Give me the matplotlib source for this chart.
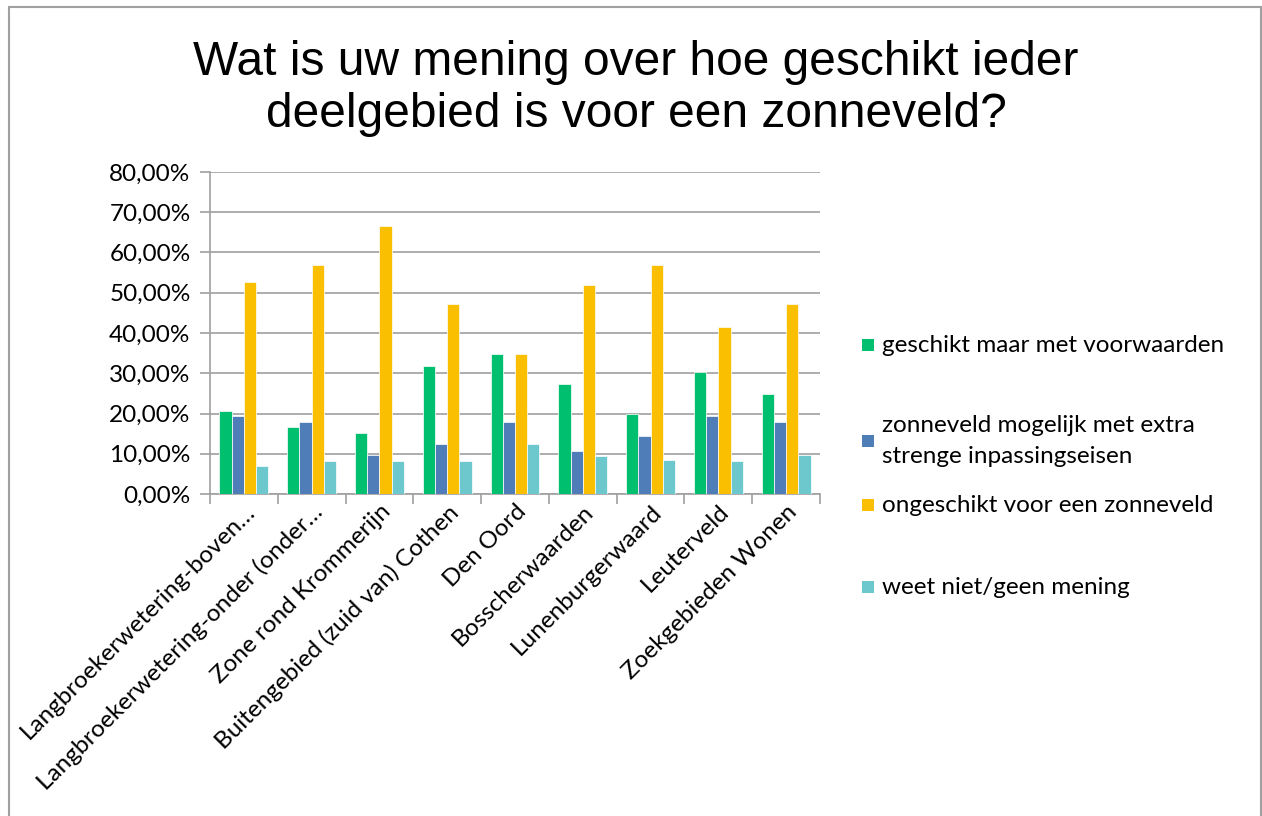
import numpy as np
import matplotlib.pyplot as plt
from matplotlib.patches import Rectangle
from matplotlib.ticker import FuncFormatter, FixedLocator

categories = [
    "Langbroekerwetering-boven…",
    "Langbroekerwetering-onder (onder…",
    "Zone rond Krommerijn",
    "Buitengebied (zuid van) Cothen",
    "Den Oord",
    "Bosscherwaarden",
    "Lunenburgerwaard",
    "Leuterveld",
    "Zoekgebieden Wonen",
]
series_names = [
    "geschikt maar met voorwaarden",
    "zonneveld mogelijk met extra\nstrenge inpassingseisen",
    "ongeschikt voor een zonneveld",
    "weet niet/geen mening",
]
geschikt = [20.7, 16.6, 15.2, 31.8, 34.7, 27.4, 19.9, 30.4, 24.9]
mogelijk = [19.3, 18.0, 9.7, 12.4, 18.0, 10.8, 14.3, 19.3, 18.0]
ongeschikt = [52.6, 57.0, 66.6, 47.1, 34.7, 52.0, 57.0, 41.6, 47.1]
weet_niet = [6.9, 8.3, 8.3, 8.3, 12.4, 9.5, 8.5, 8.3, 9.6]
colors = ["#00BF6F", "#4F7DB8", "#F9BF00", "#6CC8CC"]

plt.rcParams["font.family"] = ["Lato", "DejaVu Sans"]

W, H = 1262, 816
fig = plt.figure(figsize=(W / 100, H / 100), dpi=100)
ax = fig.add_axes([210 / W, (H - 494) / H, 610 / W, 322 / H])

x = np.arange(len(categories))
w = 0.18
for i, vals in enumerate([geschikt, mogelijk, ongeschikt, weet_niet]):
    ax.bar(x + (i - 1.5) * w, vals, w, color=colors[i], edgecolor="white",
           linewidth=0.5, zorder=3)

ax.set_xlim(-0.5, len(categories) - 0.5)
ax.set_ylim(0, 80)
ax.set_yticks(np.arange(0, 81, 10))
ax.yaxis.set_major_formatter(FuncFormatter(lambda v, p: f"{v:.2f}%".replace(".", ",")))
ax.grid(axis="y", color="#A0A0A0", linewidth=1.2, zorder=0)
for s in ["top", "right"]:
    ax.spines[s].set_visible(False)
for s in ["left", "bottom"]:
    ax.spines[s].set_color("#A0A0A0")
    ax.spines[s].set_linewidth(1.2)

ax.xaxis.set_major_locator(FixedLocator(np.arange(-0.5, len(categories), 1)))
ax.xaxis.set_major_formatter(FuncFormatter(lambda v, p: ""))
ax.xaxis.set_minor_locator(FixedLocator(x))
ax.set_xticklabels(categories, minor=True, rotation=45, ha="right",
                   rotation_mode="anchor", fontsize=17.5)
ax.tick_params(axis="x", which="major", length=7, color="#A0A0A0", width=1.2)
ax.tick_params(axis="x", which="minor", length=0, pad=5)
ax.tick_params(axis="y", length=7, color="#A0A0A0", width=1.2, labelsize=17.5, pad=7)

fig.text(0.504, 1 - 40 / H, "Wat is uw mening over hoe geschikt ieder\ndeelgebied is voor een zonneveld?",
         ha="center", va="top", fontsize=34.5, family=["Liberation Sans", "DejaVu Sans"],
         linespacing=1.2)

# legend, drawn entry by entry
legend_y = [345, 441, 505, 587]
for name, c, yc in zip(series_names, colors, legend_y):
    fig.patches.append(Rectangle((862 / W, 1 - (yc + 6) / H), 12 / W, 12 / H,
                                 transform=fig.transFigure, facecolor=c, edgecolor="none"))
    fig.text(882 / W, 1 - yc / H, name, ha="left", va="center", fontsize=17.5,
             linespacing=1.55)

fig.patches.append(Rectangle((9 / W, -0.01), 1252 / W, (H - 7) / H + 0.01,
                             transform=fig.transFigure, fill=False,
                             edgecolor="#A0A0A0", linewidth=1.5))

fig.savefig("out.png", dpi=100)
